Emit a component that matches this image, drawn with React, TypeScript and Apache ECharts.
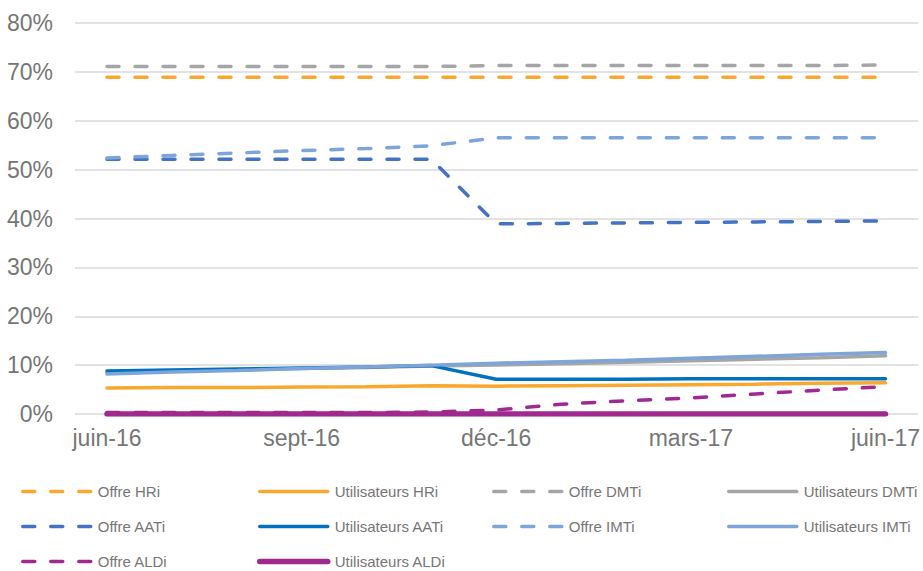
import React, { useEffect, useRef } from "react";
import * as echarts from "echarts";

const months = ["juin-16", "juil-16", "août-16", "sept-16", "oct-16", "nov-16", "déc-16", "janv-17", "févr-17", "mars-17", "avr-17", "mai-17", "juin-17"];
const yTicks = [0, 10, 20, 30, 40, 50, 60, 70, 80];

const offreHRi = [68.9, 68.9, 68.9, 68.9, 68.9, 68.9, 68.9, 68.9, 68.9, 68.9, 68.9, 68.9, 68.9];
const utilHRi = [5.3, 5.4, 5.4, 5.5, 5.6, 5.8, 5.7, 5.8, 5.9, 6.0, 6.1, 6.3, 6.4];
const offreDMTi = [71.1, 71.1, 71.1, 71.1, 71.1, 71.1, 71.3, 71.3, 71.3, 71.3, 71.3, 71.3, 71.4];
const utilDMTi = [8.5, 8.8, 9.0, 9.3, 9.5, 9.8, 10.0, 10.3, 10.6, 10.9, 11.2, 11.5, 11.9];
const offreAATi = [52.1, 52.1, 52.1, 52.1, 52.1, 52.1, 38.9, 39.0, 39.1, 39.2, 39.3, 39.4, 39.5];
const utilAATi = [8.8, 9.0, 9.2, 9.4, 9.6, 9.9, 7.1, 7.1, 7.1, 7.2, 7.2, 7.2, 7.2];
const offreIMTi = [52.4, 52.9, 53.4, 53.9, 54.3, 54.9, 56.5, 56.5, 56.5, 56.5, 56.5, 56.5, 56.5];
const utilIMTi = [8.2, 8.6, 8.9, 9.3, 9.6, 10.0, 10.4, 10.7, 11.0, 11.4, 11.8, 12.2, 12.6];
const offreALDi = [0.3, 0.3, 0.3, 0.3, 0.3, 0.4, 0.8, 2.0, 2.7, 3.3, 4.1, 4.9, 5.6];
const utilALDi = [0, 0, 0, 0, 0, 0, 0, 0, 0, 0, 0, 0, 0];

const ORANGE = "#F9A72E";
const GRAY = "#A5A5A5";
const BLUE_DARK_DASH = "#4472C4";
const BLUE_SOLID = "#0070C0";
const BLUE_LIGHT = "#7DA5DA";
const PURPLE = "#A0298F";
const TEXT = "#767676";
const FONT = "Liberation Sans, Arial";

const DASH = [12, 16];

type S = { name: string; data: number[]; color: string; dashed: boolean; width: number };

const seriesDefs: S[] = [
  { name: "Offre HRi", data: offreHRi, color: ORANGE, dashed: true, width: 3.5 },
  { name: "Utilisateurs HRi", data: utilHRi, color: ORANGE, dashed: false, width: 3.5 },
  { name: "Offre DMTi", data: offreDMTi, color: GRAY, dashed: true, width: 3.5 },
  { name: "Utilisateurs DMTi", data: utilDMTi, color: GRAY, dashed: false, width: 3.5 },
  { name: "Offre AATi", data: offreAATi, color: BLUE_DARK_DASH, dashed: true, width: 3.5 },
  { name: "Utilisateurs AATi", data: utilAATi, color: BLUE_SOLID, dashed: false, width: 3.5 },
  { name: "Offre IMTi", data: offreIMTi, color: BLUE_LIGHT, dashed: true, width: 3.5 },
  { name: "Utilisateurs IMTi", data: utilIMTi, color: BLUE_LIGHT, dashed: false, width: 3.5 },
  { name: "Offre ALDi", data: offreALDi, color: PURPLE, dashed: true, width: 3.5 },
  { name: "Utilisateurs ALDi", data: utilALDi, color: PURPLE, dashed: false, width: 5.5 },
];

const lineStyleOf = (s: S) => ({
  color: s.color,
  width: s.width,
  type: s.dashed ? DASH : "solid",
  cap: "round",
});

export default function App() {
  const ref = useRef<HTMLDivElement>(null);
  useEffect(() => {
    const chart = echarts.init(ref.current!, null, { renderer: "svg" });
    const legendItem = (name: string) => {
      const s = seriesDefs.find((d) => d.name === name)!;
      return { name, lineStyle: lineStyleOf(s), itemStyle: { opacity: 0 } };
    };
    const legendBase = {
      orient: "vertical",
      itemWidth: 68,
      itemHeight: 15,
      itemGap: 20,
      top: 484,
      height: 90,
      padding: 0,
      itemStyle: { opacity: 0 },
      textStyle: { fontFamily: FONT, fontSize: 15, lineHeight: 15, color: TEXT, padding: [0, 0, 0, 2] },
    };
    chart.setOption({
      animation: false,
      grid: [
        { left: 75, right: 5, top: 23, bottom: 157 },
        { left: 107, right: 36, top: 23, bottom: 157 },
      ],
      xAxis: [
        { type: "value", gridIndex: 0, show: false, min: 0, max: 1 },
        {
          type: "category",
          gridIndex: 1,
          data: months,
          boundaryGap: false,
          axisLine: { show: false },
          axisTick: { show: false },
          axisLabel: {
            interval: 2,
            fontFamily: FONT,
            fontSize: 23,
            color: TEXT,
            margin: 12,
          },
        },
      ],
      yAxis: [
        {
          type: "value",
          gridIndex: 0,
          min: yTicks[0],
          max: yTicks[yTicks.length - 1],
          interval: 10,
          axisLine: { show: false },
          axisTick: { show: false },
          splitLine: { lineStyle: { color: "#D9D9D9", width: 1.5 } },
          axisLabel: {
            formatter: (v: number) => v + "%",
            fontFamily: FONT,
            fontSize: 23,
            color: TEXT,
            margin: 22,
          },
        },
        {
          type: "value",
          gridIndex: 1,
          min: yTicks[0],
          max: yTicks[yTicks.length - 1],
          interval: 10,
          show: false,
          splitLine: { show: false },
        },
      ],
      legend: [
        { ...legendBase, left: 21, data: ["Offre HRi", "Offre AATi", "Offre ALDi"].map(legendItem) },
        { ...legendBase, left: 257, data: ["Utilisateurs HRi", "Utilisateurs AATi", "Utilisateurs ALDi"].map(legendItem) },
        { ...legendBase, left: 492, data: ["Offre DMTi", "Offre IMTi"].map(legendItem) },
        { ...legendBase, left: 727, data: ["Utilisateurs DMTi", "Utilisateurs IMTi"].map(legendItem) },
      ],
      series: seriesDefs.map((s) => ({
        name: s.name,
        type: "line",
        xAxisIndex: 1,
        yAxisIndex: 1,
        data: s.data,
        symbol: "none",
        color: s.color,
        lineStyle: lineStyleOf(s),
        z: 3,
      })),
    });
    return () => chart.dispose();
  }, []);
  return <div ref={ref} style={{ width: 923, height: 571, position: "absolute", left: 0, top: 0 }} />;
}
